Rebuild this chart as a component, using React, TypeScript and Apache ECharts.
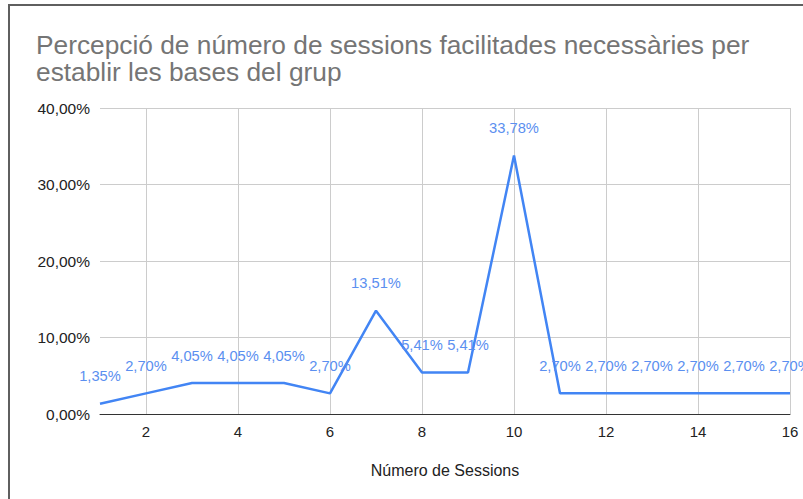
import React, { useEffect, useRef } from "react";
import * as echarts from "echarts";

const sessions = [1, 2, 3, 4, 5, 6, 7, 8, 9, 10, 11, 12, 13, 14, 15, 16];
const percentages = [1.35, 2.7, 4.05, 4.05, 4.05, 2.7, 13.51, 5.41, 5.41, 33.78, 2.7, 2.7, 2.7, 2.7, 2.7, 2.7];
const xTicks = [2, 4, 6, 8, 10, 12, 14, 16];
const titleText = "Percepció de número de sessions facilitades necessàries per\nestablir les bases del grup";
const xAxisName = "Número de Sessions";

const fmt = (v: number) => v.toFixed(2).replace(".", ",") + "%";
const FONT = "Liberation Sans";

export default function App() {
  const ref = useRef<HTMLDivElement>(null);
  useEffect(() => {
    if (!ref.current) return;
    const chart = echarts.init(ref.current, undefined, { renderer: "svg" });
    chart.setOption({
      animation: false,
      backgroundColor: "#ffffff",
      textStyle: { fontFamily: FONT },
      title: {
        text: titleText,
        left: 36,
        top: 32,
        padding: 0,
        textStyle: { fontFamily: FONT, fontSize: 26.3, fontWeight: "normal", color: "#757575", lineHeight: 26.5 },
      },
      graphic: [
        {
          type: "rect",
          shape: { x: 9, y: 5, width: 900, height: 700 },
          style: { fill: "none", stroke: "#5f5f5f", lineWidth: 2 },
          silent: true,
        },
      ],
      grid: { left: 100, right: 13, top: 108, bottom: 85 },
      xAxis: {
        type: "value",
        min: 1,
        max: 16,
        name: xAxisName,
        nameLocation: "middle",
        nameGap: 48,
        nameTextStyle: { fontFamily: FONT, fontSize: 16, color: "#222" },
        axisLine: { show: true, lineStyle: { color: "#333", width: 1 } },
        axisTick: { show: false, customValues: xTicks },
        axisLabel: { customValues: xTicks, fontFamily: FONT, fontSize: 15, color: "#222", margin: 10 },
        splitLine: { show: true, lineStyle: { color: "#cccccc", width: 1 } },
      },
      yAxis: {
        type: "value",
        min: 0,
        max: 40,
        interval: 10,
        axisLine: { show: false },
        axisTick: { show: false },
        axisLabel: { formatter: (v: number) => fmt(v), fontFamily: FONT, fontSize: 15.5, color: "#222", margin: 10 },
        splitLine: { show: true, lineStyle: { color: "#cccccc", width: 1 } },
      },
      series: [
        {
          type: "line",
          data: sessions.map((s, i) => [s, percentages[i]]),
          symbol: "circle",
          symbolSize: 0,
          showSymbol: true,
          itemStyle: { color: "#4285f4" },
          lineStyle: { color: "#4285f4", width: 2.5 },
          label: {
            show: true,
            position: "top",
            distance: 20,
            formatter: (p: any) => fmt(p.value[1]),
            fontFamily: FONT,
            fontSize: 14.7,
            color: "#5b8ff0",
          },
          labelLayout: { hideOverlap: false },
          clip: false,
        },
      ],
    });
    return () => chart.dispose();
  }, []);
  return <div ref={ref} style={{ position: "fixed", left: 0, top: 0, width: 803, height: 499 }} />;
}
